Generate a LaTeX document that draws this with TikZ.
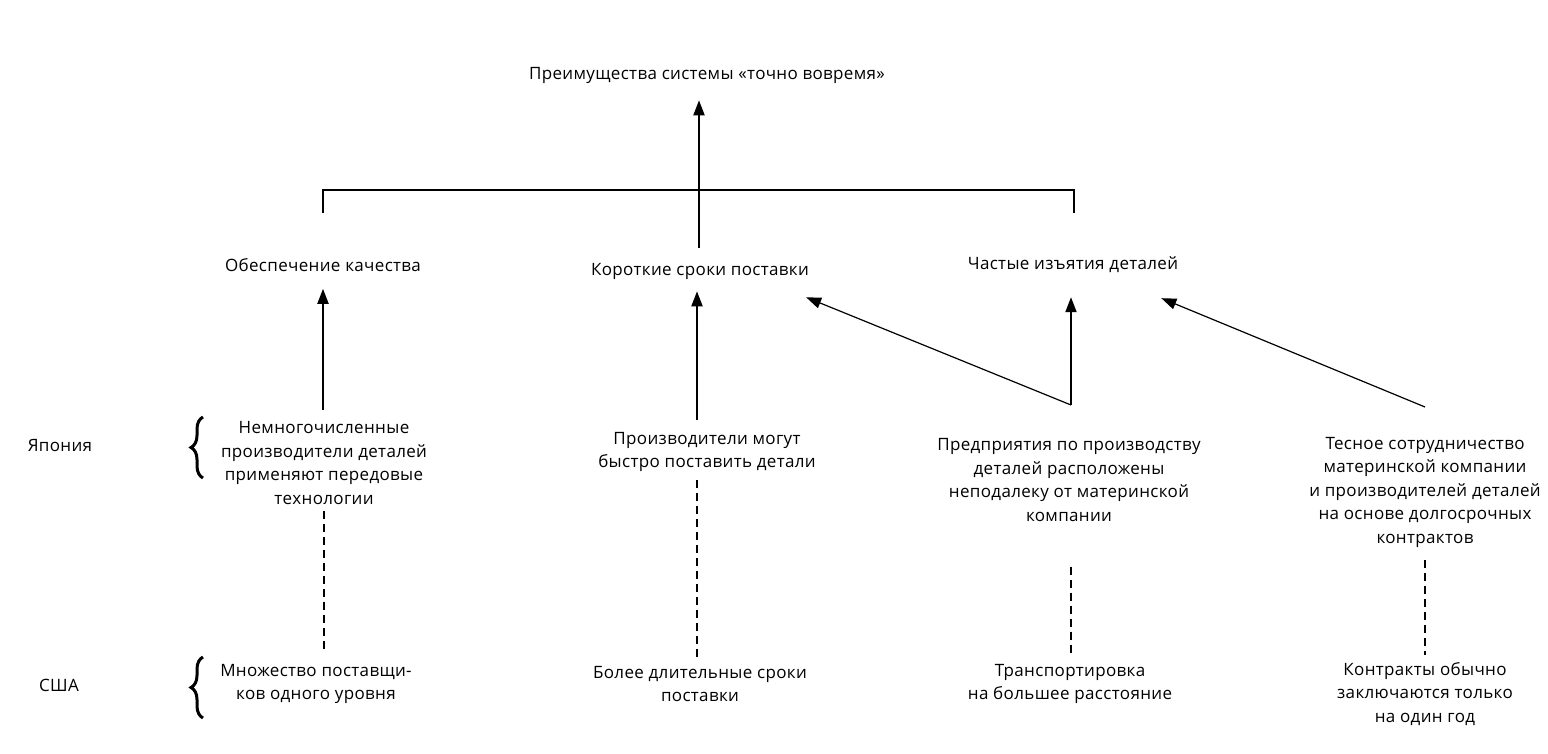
\documentclass[tikz,border=0pt]{standalone}
\usepackage{fontspec}
\setmainfont{Open Sans}[LetterSpace=2]
\usetikzlibrary{arrows.meta,decorations.pathreplacing}
\tikzset{
  lbl/.style={align=center, inner sep=0pt, font=\fontsize{17}{23.5}\selectfont},
  up/.style={line width=2pt, -{Triangle[length=15pt,width=11pt]}},
  slant/.style={line width=1.2pt, -{Triangle[length=15pt,width=11pt]}},
  weak/.style={line width=1.5pt, dash pattern=on 8pt off 5pt},
  brc/.style={line width=3pt, decorate, decoration={brace,amplitude=12pt}},
}
\begin{document}
\begin{tikzpicture}[x=1pt,y=-1pt]
  \useasboundingbox (0,0) rectangle (1548,754);
  % Goal
  \node[lbl] (goal) at (707,75) {Преимущества системы «точно вовремя»};
  % Results
  \node[lbl] (qual) at (323,265) {Обеспечение качества};
  \node[lbl] (short) at (700,271) {Короткие сроки поставки};
  \node[lbl] (freq) at (1073,265) {Частые изъятия деталей};
  % Countries
  \node[lbl] (jp) at (60,446) {Япония};
  \node[lbl] (us) at (59,685) {США};
  \draw[brc] (203,478) -- (203,417);
  \draw[brc] (203,718) -- (203,657);
  % Japan
  \node[lbl] (jp1) at (324,463) {Немногочисленные\\производители деталей\\применяют передовые\\технологии};
  \node[lbl] (jp2) at (707,452) {Производители могут\\быстро поставить детали};
  \node[lbl] (jp3) at (1069,480) {Предприятия по производству\\деталей расположены\\неподалеку от материнской\\компании};
  \node[lbl] (jp4) at (1425,492) {Тесное сотрудничество\\материнской компании\\и производителей деталей\\на основе долгосрочных\\контрактов};
  % USA
  \node[lbl] (us1) at (316,684) {Множество поставщи-\\ков одного уровня};
  \node[lbl] (us2) at (700,684) {Более длительные сроки\\поставки};
  \node[lbl] (us3) at (1070,684) {Транспортировка\\на большее расстояние};
  \node[lbl] (us4) at (1425,694) {Контракты обычно\\заключаются только\\на один год};
  % Bracket and goal arrow
  \coordinate (jl) at (323,213);
  \coordinate (jr) at (1074,213);
  \coordinate (bar) at (699,190);
  \coordinate (jm) at (699,248);
  \draw[line width=2pt] (jl) |- (bar) -| (jr);
  \draw[up, shorten >=17pt] (jm) -- (jm |- goal.south);
  % Arrow tails
  \coordinate (t1) at (323,410);
  \coordinate (t2) at (697,420);
  \coordinate (t3) at (1071,405);
  \coordinate (t4) at (1425,407);
  \draw[up, shorten >=17pt] (t1) -- (t1 |- qual.south);
  \draw[up, shorten >=12pt] (t2) -- (t2 |- short.south);
  \draw[up, shorten >=24pt] (t3) -- (t3 |- freq.south);
  \draw[slant] (t3) -- ([xshift=-3pt,yshift=-18pt]short.south east);
  \draw[slant] (t4) -- ([xshift=-17pt,yshift=-25pt]freq.south east);
  % Dashed links
  \draw[weak, shorten <=6pt, shorten >=12pt] (jp1.south) -- (jp1.south |- us1.north);
  \draw[weak, shorten <=8pt, shorten >=7pt] (t2 |- jp2.south) -- (t2 |- us2.north);
  \draw[weak, shorten <=45pt, shorten >=10pt] (t3 |- jp3.south) -- (t3 |- us3.north);
  \draw[weak, shorten <=13pt, shorten >=7pt] (t4 |- jp4.south) -- (t4 |- us4.north);
\end{tikzpicture}
\end{document}
